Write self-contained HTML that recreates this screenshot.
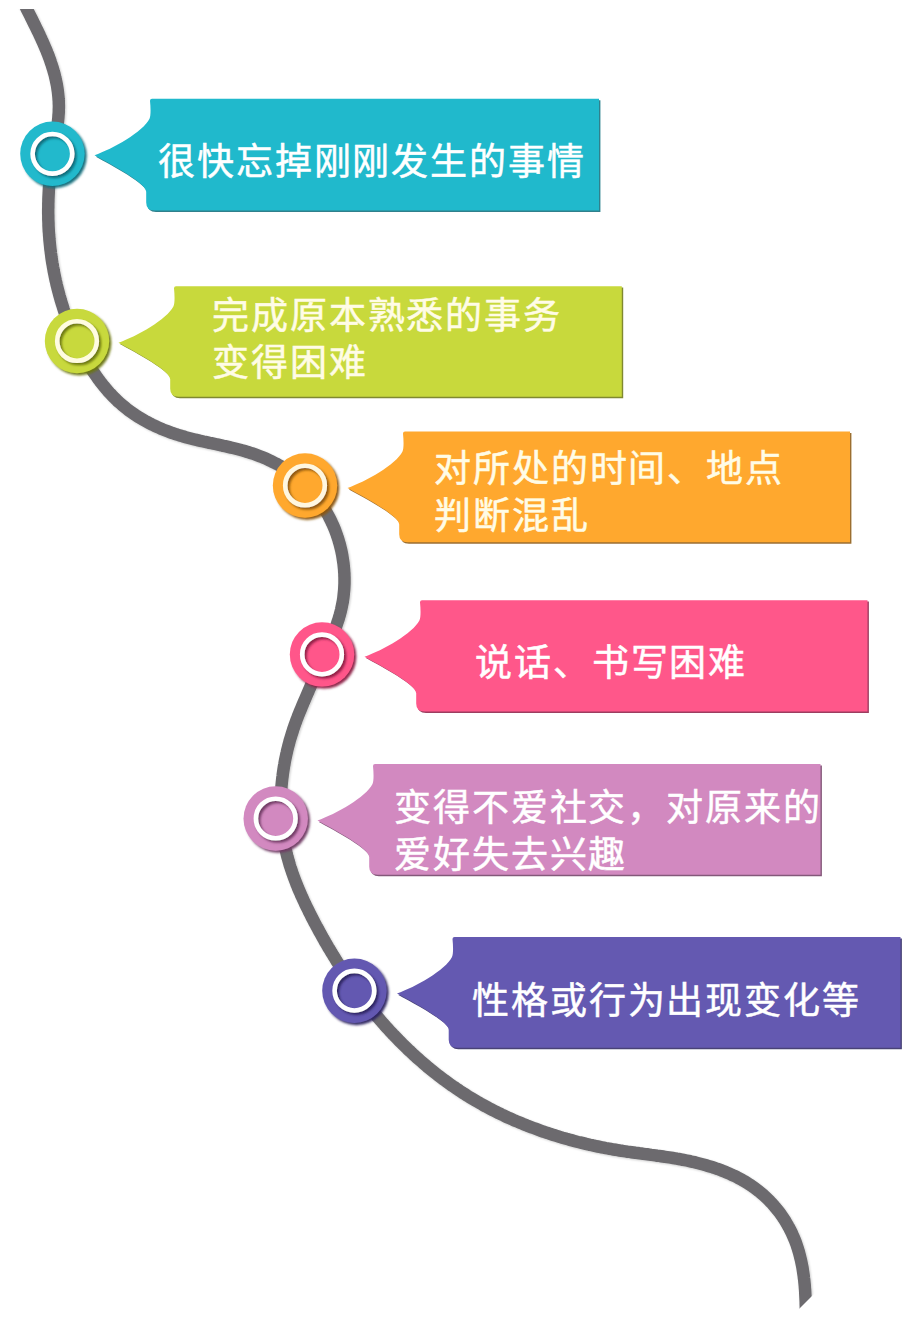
<!DOCTYPE html>
<html lang="zh-CN"><head><meta charset="utf-8"><style>
html,body{margin:0;padding:0;background:#ffffff;width:918px;height:1317px;overflow:hidden;position:relative}
.t{position:absolute;font-family:"Liberation Sans",sans-serif;font-size:37px;line-height:47px;white-space:nowrap;letter-spacing:1.9px;-webkit-text-stroke:0.5px currentColor}
</style></head><body>
<svg width="918" height="1317" viewBox="0 0 918 1317" style="position:absolute;left:0;top:0">
<defs>
<filter id="bl" x="-10%" y="-10%" width="120%" height="120%"><feGaussianBlur stdDeviation="0.7"/></filter>
<filter id="cs0" x="-30%" y="-30%" width="160%" height="160%"><feDropShadow dx="2.2" dy="2.2" stdDeviation="0.9" flood-color="#0c6b78" flood-opacity="0.95"/></filter>
<filter id="cs1" x="-30%" y="-30%" width="160%" height="160%"><feDropShadow dx="2.2" dy="2.2" stdDeviation="0.9" flood-color="#6a7510" flood-opacity="0.95"/></filter>
<filter id="cs2" x="-30%" y="-30%" width="160%" height="160%"><feDropShadow dx="2.2" dy="2.2" stdDeviation="0.9" flood-color="#8a5510" flood-opacity="0.95"/></filter>
<filter id="cs3" x="-30%" y="-30%" width="160%" height="160%"><feDropShadow dx="2.2" dy="2.2" stdDeviation="0.9" flood-color="#8c1f45" flood-opacity="0.95"/></filter>
<filter id="cs4" x="-30%" y="-30%" width="160%" height="160%"><feDropShadow dx="2.2" dy="2.2" stdDeviation="0.9" flood-color="#6e3b63" flood-opacity="0.95"/></filter>
<filter id="cs5" x="-30%" y="-30%" width="160%" height="160%"><feDropShadow dx="2.2" dy="2.2" stdDeviation="0.9" flood-color="#2a2460" flood-opacity="0.95"/></filter>
<filter id="lsh" x="-10%" y="-10%" width="120%" height="120%"><feDropShadow dx="1" dy="1" stdDeviation="1" flood-color="#000" flood-opacity="0.2"/></filter>
<clipPath id="cc"><polygon points="-10,9 928,9 928,1180 791,1317 -10,1317"/></clipPath>
</defs>
<g clip-path="url(#cc)"><path d="M17.2,-10.9 L18.0,-9.2 L18.8,-7.4 L19.6,-5.6 L20.5,-3.9 L21.3,-2.1 L22.2,-0.3 L23.0,1.5 L23.9,3.3 L24.8,5.0 L25.7,6.8 L26.6,8.6 L27.5,10.4 L28.4,12.2 L29.3,14.0 L30.2,15.8 L31.1,17.6 L32.0,19.4 L32.9,21.3 L33.8,23.1 L34.7,24.9 L35.6,26.7 L36.5,28.6 L37.4,30.4 L38.3,32.2 L39.2,34.1 L40.0,35.9 L40.9,37.8 L41.7,39.6 L42.6,41.5 L43.4,43.4 L44.2,45.2 L45.0,47.1 L45.8,49.0 L46.6,50.8 L47.3,52.7 L48.1,54.6 L48.8,56.5 L49.5,58.4 L50.2,60.3 L50.8,62.2 L51.5,64.2 L52.1,66.1 L52.7,68.0 L53.3,69.9 L53.8,71.9 L54.4,73.8 L54.9,75.8 L55.3,77.7 L55.8,79.7 L56.2,81.6 L56.6,83.6 L57.0,85.6 L57.3,87.5 L57.6,89.5 L57.9,91.5 L58.1,93.4 L58.3,95.4 L58.5,97.4 L58.6,99.4 L58.8,101.4 L58.8,103.4 L58.9,105.4 L58.9,107.3 L58.8,109.3 L58.8,111.3 L58.7,113.3 L58.5,115.3 L58.4,117.3 L58.2,119.3 L58.0,121.3 L57.8,123.3 L57.5,125.2 L57.2,127.2 L56.9,129.2 L56.6,131.2 L56.3,133.2 L56.0,135.2 L55.7,137.2 L55.3,139.2 L55.0,141.2 L54.6,143.2 L54.3,145.2 L53.9,147.2 L53.6,149.2 L53.3,151.2 L52.9,153.2 L52.6,155.2 L52.3,157.2 L52.0,159.2 L51.7,161.2 L51.5,163.2 L51.2,165.2 L50.9,167.2 L50.7,169.2 L50.5,171.2 L50.3,173.2 L50.1,175.2 L49.9,177.2 L49.7,179.2 L49.5,181.2 L49.3,183.2 L49.2,185.2 L49.0,187.2 L48.9,189.2 L48.8,191.2 L48.7,193.2 L48.6,195.3 L48.5,197.3 L48.4,199.3 L48.4,201.3 L48.3,203.3 L48.3,205.3 L48.3,207.3 L48.2,209.3 L48.2,211.3 L48.2,213.3 L48.3,215.3 L48.3,217.3 L48.3,219.3 L48.4,221.3 L48.5,223.3 L48.5,225.3 L48.6,227.3 L48.7,229.3 L48.8,231.3 L49.0,233.2 L49.1,235.2 L49.3,237.2 L49.4,239.2 L49.6,241.2 L49.8,243.2 L50.0,245.2 L50.2,247.2 L50.4,249.1 L50.7,251.1 L50.9,253.1 L51.2,255.1 L51.4,257.0 L51.7,259.0 L52.0,261.0 L52.3,263.0 L52.7,264.9 L53.0,266.9 L53.4,268.9 L53.7,270.8 L54.1,272.8 L54.5,274.7 L54.9,276.7 L55.3,278.6 L55.7,280.6 L56.2,282.5 L56.6,284.5 L57.1,286.4 L57.6,288.4 L58.1,290.3 L58.6,292.3 L59.1,294.2 L59.6,296.1 L60.2,298.0 L60.7,300.0 L61.3,301.9 L61.9,303.8 L62.5,305.7 L63.1,307.6 L63.7,309.6 L64.4,311.5 L65.0,313.4 L65.7,315.3 L66.4,317.2 L67.1,319.1 L67.8,321.0 L68.5,322.9 L69.2,324.7 L70.0,326.6 L70.7,328.5 L71.5,330.4 L72.3,332.2 L73.1,334.1 L73.9,336.0 L74.8,337.8 L75.6,339.7 L76.5,341.6 L77.4,343.4 L78.3,345.2 L79.2,347.1 L80.1,348.9 L81.0,350.7 L82.0,352.6 L82.9,354.4 L83.9,356.2 L84.9,358.0 L85.9,359.8 L87.0,361.5 L88.0,363.3 L89.1,365.1 L90.1,366.8 L91.2,368.5 L92.3,370.3 L93.4,372.0 L94.6,373.7 L95.7,375.3 L96.9,377.0 L98.1,378.7 L99.3,380.3 L100.5,381.9 L101.7,383.5 L103.0,385.1 L104.3,386.7 L105.6,388.2 L106.9,389.8 L108.2,391.3 L109.5,392.8 L110.9,394.2 L112.3,395.7 L113.6,397.1 L115.1,398.5 L116.5,399.9 L117.9,401.3 L119.4,402.6 L120.9,403.9 L122.4,405.2 L123.9,406.5 L125.4,407.7 L127.0,409.0 L128.5,410.2 L130.1,411.3 L131.7,412.5 L133.3,413.6 L135.0,414.7 L136.6,415.8 L138.3,416.9 L140.0,417.9 L141.7,418.9 L143.4,419.9 L145.1,420.9 L146.8,421.8 L148.6,422.8 L150.3,423.7 L152.1,424.6 L153.9,425.4 L155.7,426.3 L157.5,427.1 L159.3,427.9 L161.1,428.7 L163.0,429.5 L164.8,430.2 L166.7,430.9 L168.6,431.6 L170.4,432.3 L172.3,433.0 L174.2,433.6 L176.1,434.3 L178.0,434.9 L179.9,435.5 L181.9,436.1 L183.8,436.6 L185.7,437.2 L187.7,437.7 L189.6,438.2 L191.6,438.7 L193.5,439.2 L195.5,439.7 L197.4,440.1 L199.4,440.6 L201.4,441.0 L203.4,441.5 L205.3,441.9 L207.3,442.3 L209.3,442.8 L211.3,443.2 L213.3,443.6 L215.2,444.0 L217.2,444.5 L219.2,444.9 L221.2,445.3 L223.2,445.8 L225.1,446.2 L227.1,446.6 L229.1,447.1 L231.1,447.6 L233.0,448.0 L235.0,448.5 L237.0,449.0 L238.9,449.5 L240.9,450.0 L242.8,450.6 L244.8,451.1 L246.7,451.7 L248.6,452.3 L250.6,452.9 L252.5,453.5 L254.4,454.2 L256.3,454.9 L258.2,455.6 L260.1,456.3 L262.0,457.0 L263.8,457.8 L265.7,458.6 L267.6,459.4 L269.4,460.3 L271.2,461.2 L273.0,462.1 L274.8,463.0 L276.6,463.9 L278.4,464.9 L280.2,465.9 L281.9,467.0 L283.6,468.0 L285.3,469.1 L287.0,470.2 L288.7,471.3 L290.4,472.5 L292.0,473.6 L293.6,474.8 L295.2,476.1 L296.8,477.3 L298.4,478.6 L299.9,479.9 L301.4,481.2 L302.9,482.6 L304.4,483.9 L305.8,485.3 L307.3,486.7 L308.7,488.2 L310.0,489.6 L311.4,491.1 L312.7,492.6 L314.0,494.2 L315.3,495.7 L316.5,497.3 L317.7,498.9 L318.9,500.5 L320.1,502.1 L321.2,503.8 L322.3,505.4 L323.4,507.1 L324.5,508.8 L325.5,510.5 L326.5,512.3 L327.5,514.0 L328.5,515.8 L329.4,517.6 L330.3,519.4 L331.2,521.2 L332.0,523.0 L332.9,524.8 L333.7,526.7 L334.4,528.5 L335.2,530.4 L335.9,532.3 L336.6,534.2 L337.2,536.1 L337.9,538.0 L338.5,539.9 L339.0,541.8 L339.6,543.8 L340.1,545.7 L340.6,547.7 L341.1,549.6 L341.5,551.6 L341.9,553.6 L342.3,555.6 L342.6,557.6 L342.9,559.5 L343.2,561.5 L343.5,563.5 L343.7,565.5 L343.9,567.5 L344.1,569.5 L344.2,571.5 L344.4,573.6 L344.4,575.6 L344.5,577.6 L344.5,579.6 L344.5,581.6 L344.5,583.6 L344.4,585.6 L344.3,587.6 L344.2,589.6 L344.0,591.6 L343.8,593.6 L343.6,595.6 L343.4,597.6 L343.1,599.6 L342.8,601.6 L342.4,603.5 L342.0,605.5 L341.6,607.5 L341.2,609.4 L340.7,611.4 L340.2,613.3 L339.7,615.2 L339.1,617.2 L338.6,619.1 L337.9,621.0 L337.3,622.9 L336.7,624.8 L336.0,626.7 L335.3,628.6 L334.6,630.5 L333.9,632.4 L333.1,634.2 L332.4,636.1 L331.6,638.0 L330.8,639.9 L330.0,641.7 L329.3,643.6 L328.5,645.5 L327.7,647.3 L326.8,649.2 L326.0,651.0 L325.2,652.9 L324.4,654.7 L323.6,656.6 L322.8,658.4 L322.0,660.3 L321.2,662.1 L320.4,664.0 L319.6,665.8 L318.7,667.7 L317.9,669.5 L317.1,671.4 L316.3,673.2 L315.5,675.1 L314.7,676.9 L313.9,678.8 L313.1,680.6 L312.3,682.5 L311.5,684.3 L310.7,686.1 L309.9,688.0 L309.1,689.8 L308.3,691.7 L307.5,693.5 L306.7,695.4 L305.9,697.2 L305.1,699.1 L304.3,701.0 L303.5,702.8 L302.7,704.7 L301.9,706.5 L301.2,708.4 L300.4,710.3 L299.6,712.1 L298.9,714.0 L298.1,715.9 L297.4,717.8 L296.7,719.6 L296.0,721.5 L295.3,723.4 L294.6,725.3 L294.0,727.2 L293.3,729.1 L292.7,731.1 L292.1,733.0 L291.5,734.9 L290.9,736.8 L290.3,738.8 L289.7,740.7 L289.2,742.7 L288.7,744.6 L288.2,746.6 L287.7,748.5 L287.2,750.5 L286.8,752.4 L286.3,754.4 L285.9,756.4 L285.5,758.3 L285.1,760.3 L284.7,762.3 L284.4,764.3 L284.0,766.3 L283.7,768.3 L283.4,770.2 L283.1,772.2 L282.8,774.2 L282.6,776.2 L282.3,778.2 L282.1,780.2 L281.9,782.2 L281.7,784.2 L281.5,786.2 L281.4,788.2 L281.2,790.2 L281.1,792.2 L281.0,794.2 L280.9,796.2 L280.9,798.2 L280.8,800.2 L280.8,802.2 L280.8,804.2 L280.8,806.2 L280.8,808.2 L280.9,810.2 L280.9,812.2 L281.0,814.2 L281.1,816.2 L281.2,818.2 L281.4,820.2 L281.5,822.2 L281.7,824.2 L281.9,826.2 L282.1,828.2 L282.3,830.2 L282.6,832.1 L282.9,834.1 L283.2,836.1 L283.5,838.0 L283.8,840.0 L284.1,842.0 L284.5,843.9 L284.9,845.9 L285.3,847.8 L285.7,849.8 L286.2,851.7 L286.6,853.7 L287.1,855.6 L287.6,857.5 L288.2,859.4 L288.7,861.4 L289.3,863.3 L289.8,865.2 L290.4,867.1 L291.1,869.0 L291.7,870.9 L292.3,872.8 L293.0,874.7 L293.7,876.6 L294.4,878.4 L295.1,880.3 L295.8,882.2 L296.5,884.1 L297.3,885.9 L298.0,887.8 L298.8,889.6 L299.6,891.5 L300.4,893.3 L301.2,895.2 L302.0,897.0 L302.9,898.9 L303.7,900.7 L304.6,902.5 L305.4,904.4 L306.3,906.2 L307.2,908.0 L308.1,909.8 L309.0,911.7 L309.9,913.5 L310.8,915.3 L311.7,917.1 L312.6,918.9 L313.6,920.7 L314.5,922.5 L315.5,924.3 L316.4,926.1 L317.4,927.8 L318.3,929.6 L319.3,931.4 L320.3,933.2 L321.3,934.9 L322.2,936.7 L323.2,938.5 L324.2,940.2 L325.2,942.0 L326.3,943.8 L327.3,945.5 L328.3,947.3 L329.3,949.0 L330.4,950.7 L331.4,952.5 L332.5,954.2 L333.5,955.9 L334.6,957.6 L335.7,959.4 L336.7,961.1 L337.8,962.8 L338.9,964.5 L340.0,966.2 L341.1,967.9 L342.2,969.6 L343.3,971.3 L344.4,972.9 L345.5,974.6 L346.7,976.3 L347.8,978.0 L349.0,979.6 L350.1,981.3 L351.3,982.9 L352.4,984.6 L353.6,986.2 L354.8,987.9 L356.0,989.5 L357.1,991.1 L358.3,992.7 L359.5,994.4 L360.7,996.0 L362.0,997.6 L363.2,999.2 L364.4,1000.8 L365.6,1002.3 L366.9,1003.9 L368.1,1005.5 L369.4,1007.1 L370.6,1008.6 L371.9,1010.2 L373.2,1011.8 L374.4,1013.3 L375.7,1014.8 L377.0,1016.4 L378.3,1017.9 L379.6,1019.4 L380.9,1020.9 L382.2,1022.5 L383.6,1024.0 L384.9,1025.5 L386.2,1026.9 L387.6,1028.4 L388.9,1029.9 L390.3,1031.4 L391.6,1032.8 L393.0,1034.3 L394.4,1035.7 L395.8,1037.2 L397.2,1038.6 L398.6,1040.1 L400.0,1041.5 L401.4,1042.9 L402.8,1044.3 L404.2,1045.7 L405.6,1047.1 L407.1,1048.5 L408.5,1049.9 L410.0,1051.2 L411.4,1052.6 L412.9,1054.0 L414.3,1055.3 L415.8,1056.6 L417.3,1058.0 L418.8,1059.3 L420.3,1060.6 L421.8,1061.9 L423.3,1063.2 L424.8,1064.5 L426.3,1065.8 L427.8,1067.1 L429.4,1068.4 L430.9,1069.6 L432.5,1070.9 L434.0,1072.1 L435.6,1073.4 L437.2,1074.6 L438.7,1075.8 L440.3,1077.0 L441.9,1078.2 L443.5,1079.4 L445.1,1080.6 L446.7,1081.8 L448.3,1083.0 L449.9,1084.1 L451.6,1085.3 L453.2,1086.4 L454.9,1087.5 L456.5,1088.7 L458.2,1089.8 L459.8,1090.9 L461.5,1092.0 L463.2,1093.1 L464.9,1094.1 L466.5,1095.2 L468.2,1096.3 L469.9,1097.3 L471.7,1098.4 L473.4,1099.4 L475.1,1100.4 L476.8,1101.4 L478.6,1102.4 L480.3,1103.4 L482.1,1104.4 L483.8,1105.4 L485.6,1106.3 L487.4,1107.3 L489.1,1108.2 L490.9,1109.2 L492.7,1110.1 L494.5,1111.0 L496.3,1111.9 L498.1,1112.8 L499.9,1113.7 L501.8,1114.6 L503.6,1115.4 L505.4,1116.3 L507.2,1117.2 L509.1,1118.0 L510.9,1118.8 L512.8,1119.6 L514.6,1120.5 L516.5,1121.3 L518.4,1122.0 L520.2,1122.8 L522.1,1123.6 L524.0,1124.4 L525.9,1125.1 L527.8,1125.9 L529.7,1126.6 L531.6,1127.3 L533.5,1128.0 L535.4,1128.7 L537.3,1129.4 L539.2,1130.1 L541.1,1130.8 L543.0,1131.5 L544.9,1132.1 L546.9,1132.8 L548.8,1133.4 L550.7,1134.1 L552.7,1134.7 L554.6,1135.3 L556.5,1135.9 L558.5,1136.5 L560.4,1137.1 L562.4,1137.7 L564.3,1138.2 L566.3,1138.8 L568.2,1139.3 L570.2,1139.9 L572.2,1140.4 L574.1,1140.9 L576.1,1141.5 L578.1,1142.0 L580.0,1142.4 L582.0,1142.9 L584.0,1143.4 L585.9,1143.9 L587.9,1144.3 L589.9,1144.8 L591.9,1145.2 L593.8,1145.7 L595.8,1146.1 L597.8,1146.5 L599.8,1146.9 L601.7,1147.3 L603.7,1147.7 L605.7,1148.1 L607.7,1148.4 L609.7,1148.8 L611.7,1149.1 L613.6,1149.5 L615.6,1149.8 L617.6,1150.1 L619.6,1150.5 L621.6,1150.8 L623.5,1151.1 L625.5,1151.4 L627.5,1151.7 L629.5,1151.9 L631.5,1152.2 L633.4,1152.5 L635.4,1152.8 L637.4,1153.0 L639.4,1153.3 L641.4,1153.5 L643.3,1153.8 L645.3,1154.1 L647.3,1154.3 L649.3,1154.6 L651.2,1154.9 L653.2,1155.1 L655.2,1155.4 L657.1,1155.7 L659.1,1155.9 L661.1,1156.2 L663.1,1156.5 L665.0,1156.8 L667.0,1157.1 L669.0,1157.4 L670.9,1157.7 L672.9,1158.0 L674.9,1158.3 L676.8,1158.7 L678.8,1159.0 L680.8,1159.4 L682.7,1159.8 L684.7,1160.1 L686.6,1160.5 L688.6,1160.9 L690.5,1161.4 L692.5,1161.8 L694.5,1162.2 L696.4,1162.7 L698.4,1163.2 L700.3,1163.7 L702.3,1164.2 L704.2,1164.7 L706.1,1165.3 L708.1,1165.9 L710.0,1166.5 L712.0,1167.1 L713.9,1167.7 L715.8,1168.4 L717.7,1169.0 L719.6,1169.7 L721.5,1170.4 L723.4,1171.2 L725.3,1171.9 L727.2,1172.7 L729.1,1173.5 L730.9,1174.3 L732.7,1175.2 L734.6,1176.0 L736.4,1176.9 L738.2,1177.9 L740.0,1178.8 L741.8,1179.8 L743.5,1180.8 L745.3,1181.8 L747.0,1182.8 L748.7,1183.9 L750.4,1185.0 L752.0,1186.1 L753.7,1187.3 L755.3,1188.5 L756.9,1189.7 L758.5,1190.9 L760.1,1192.2 L761.6,1193.5 L763.1,1194.8 L764.6,1196.1 L766.1,1197.5 L767.6,1198.9 L769.0,1200.3 L770.4,1201.8 L771.8,1203.2 L773.1,1204.7 L774.4,1206.3 L775.7,1207.8 L777.0,1209.4 L778.3,1210.9 L779.5,1212.5 L780.7,1214.2 L781.8,1215.8 L783.0,1217.5 L784.1,1219.2 L785.2,1220.9 L786.2,1222.6 L787.2,1224.3 L788.2,1226.1 L789.2,1227.8 L790.1,1229.6 L791.0,1231.4 L791.9,1233.2 L792.7,1235.1 L793.5,1236.9 L794.3,1238.8 L795.1,1240.6 L795.8,1242.5 L796.5,1244.4 L797.1,1246.3 L797.7,1248.2 L798.3,1250.1 L798.9,1252.0 L799.4,1254.0 L799.9,1255.9 L800.4,1257.9 L800.9,1259.8 L801.3,1261.8 L801.7,1263.8 L802.1,1265.7 L802.5,1267.7 L802.8,1269.7 L803.1,1271.7 L803.4,1273.7 L803.7,1275.7 L803.9,1277.7 L804.2,1279.7 L804.4,1281.8 L804.6,1283.8 L804.8,1285.8 L804.9,1287.8 L805.1,1289.8 L805.2,1291.9 L805.3,1293.9 L805.4,1295.9 L805.5,1297.9 L805.6,1300.0 L805.7,1302.0 L805.7,1304.0 L805.8,1306.0 L805.8,1308.1 L805.9,1310.1 L805.9,1312.1 L805.9,1314.1 L805.9,1316.1 L805.9,1318.1 L805.9,1320.1 L805.9,1322.1 L805.9,1324.1 L805.9,1326.0 L805.9,1328.0 L805.8,1330.0" fill="none" stroke="#6c6b6e" stroke-width="12.5" stroke-linecap="butt" filter="url(#lsh)"/></g>
<path d="M152.0,98.8 L599.0,98.8 L599.0,210.5 L154.5,210.5 Q146.2,210.5 146.2,202.5 L146.2,191.8 C146.2,182.8 110.0,163.8 94.5,155.3 C113.0,148.8 143.0,131.8 149.5,118.8 C150.8,115.8 150.8,108.8 150.0,100.8 Q150.0,98.8 152.0,98.8 Z" fill="#0c6b78" transform="translate(1.4,1.4)" filter="url(#bl)" opacity="0.85"/>
<path d="M152.0,98.8 L599.0,98.8 L599.0,210.5 L154.5,210.5 Q146.2,210.5 146.2,202.5 L146.2,191.8 C146.2,182.8 110.0,163.8 94.5,155.3 C113.0,148.8 143.0,131.8 149.5,118.8 C150.8,115.8 150.8,108.8 150.0,100.8 Q150.0,98.8 152.0,98.8 Z" fill="#20b9cc"/>
<path d="M176.0,286.2 L621.8,286.2 L621.8,396.8 L178.5,396.8 Q170.2,396.8 170.2,388.8 L170.2,379.2 C170.2,370.2 134.0,351.2 118.5,342.7 C137.0,336.2 167.0,319.2 173.5,306.2 C174.8,303.2 174.8,296.2 174.0,288.2 Q174.0,286.2 176.0,286.2 Z" fill="#6a7510" transform="translate(1.4,1.4)" filter="url(#bl)" opacity="0.85"/>
<path d="M176.0,286.2 L621.8,286.2 L621.8,396.8 L178.5,396.8 Q170.2,396.8 170.2,388.8 L170.2,379.2 C170.2,370.2 134.0,351.2 118.5,342.7 C137.0,336.2 167.0,319.2 173.5,306.2 C174.8,303.2 174.8,296.2 174.0,288.2 Q174.0,286.2 176.0,286.2 Z" fill="#c8d93c"/>
<path d="M405.0,431.5 L850.0,431.5 L850.0,542.3 L407.5,542.3 Q399.2,542.3 399.2,534.3 L399.2,524.5 C399.2,515.5 363.0,496.5 347.5,488.0 C366.0,481.5 396.0,464.5 402.5,451.5 C403.8,448.5 403.8,441.5 403.0,433.5 Q403.0,431.5 405.0,431.5 Z" fill="#8a5510" transform="translate(1.4,1.4)" filter="url(#bl)" opacity="0.85"/>
<path d="M405.0,431.5 L850.0,431.5 L850.0,542.3 L407.5,542.3 Q399.2,542.3 399.2,534.3 L399.2,524.5 C399.2,515.5 363.0,496.5 347.5,488.0 C366.0,481.5 396.0,464.5 402.5,451.5 C403.8,448.5 403.8,441.5 403.0,433.5 Q403.0,431.5 405.0,431.5 Z" fill="#ffa82e"/>
<path d="M422.0,600.2 L867.5,600.2 L867.5,711.6 L424.5,711.6 Q416.2,711.6 416.2,703.6 L416.2,693.2 C416.2,684.2 380.0,665.2 364.5,656.7 C383.0,650.2 413.0,633.2 419.5,620.2 C420.8,617.2 420.8,610.2 420.0,602.2 Q420.0,600.2 422.0,600.2 Z" fill="#8c1f45" transform="translate(1.4,1.4)" filter="url(#bl)" opacity="0.85"/>
<path d="M422.0,600.2 L867.5,600.2 L867.5,711.6 L424.5,711.6 Q416.2,711.6 416.2,703.6 L416.2,693.2 C416.2,684.2 380.0,665.2 364.5,656.7 C383.0,650.2 413.0,633.2 419.5,620.2 C420.8,617.2 420.8,610.2 420.0,602.2 Q420.0,600.2 422.0,600.2 Z" fill="#ff578a"/>
<path d="M375.0,764.1 L820.5,764.1 L820.5,874.8 L377.5,874.8 Q369.2,874.8 369.2,866.8 L369.2,857.1 C369.2,848.1 333.0,829.1 317.5,820.6 C336.0,814.1 366.0,797.1 372.5,784.1 C373.8,781.1 373.8,774.1 373.0,766.1 Q373.0,764.1 375.0,764.1 Z" fill="#6e3b63" transform="translate(1.4,1.4)" filter="url(#bl)" opacity="0.85"/>
<path d="M375.0,764.1 L820.5,764.1 L820.5,874.8 L377.5,874.8 Q369.2,874.8 369.2,866.8 L369.2,857.1 C369.2,848.1 333.0,829.1 317.5,820.6 C336.0,814.1 366.0,797.1 372.5,784.1 C373.8,781.1 373.8,774.1 373.0,766.1 Q373.0,764.1 375.0,764.1 Z" fill="#d289c0"/>
<path d="M454.5,937.0 L900.5,937.0 L900.5,1047.8 L457.0,1047.8 Q448.7,1047.8 448.7,1039.8 L448.7,1030.0 C448.7,1021.0 412.5,1002.0 397.0,993.5 C415.5,987.0 445.5,970.0 452.0,957.0 C453.3,954.0 453.3,947.0 452.5,939.0 Q452.5,937.0 454.5,937.0 Z" fill="#2a2460" transform="translate(1.4,1.4)" filter="url(#bl)" opacity="0.85"/>
<path d="M454.5,937.0 L900.5,937.0 L900.5,1047.8 L457.0,1047.8 Q448.7,1047.8 448.7,1039.8 L448.7,1030.0 C448.7,1021.0 412.5,1002.0 397.0,993.5 C415.5,987.0 445.5,970.0 452.0,957.0 C453.3,954.0 453.3,947.0 452.5,939.0 Q452.5,937.0 454.5,937.0 Z" fill="#6459b1"/>
<circle cx="52.4" cy="153.8" r="32.2" fill="#20b9cc" filter="url(#cs0)"/>
<circle cx="52.4" cy="153.8" r="19.8" fill="none" stroke="#ffffff" stroke-width="4.6" filter="url(#cs0)"/>
<circle cx="77.0" cy="341.0" r="32.2" fill="#c8d93c" filter="url(#cs1)"/>
<circle cx="77.0" cy="341.0" r="19.8" fill="none" stroke="#fffce0" stroke-width="4.6" filter="url(#cs1)"/>
<circle cx="305.0" cy="485.5" r="32.2" fill="#ffa82e" filter="url(#cs2)"/>
<circle cx="305.0" cy="485.5" r="19.8" fill="none" stroke="#fff7e0" stroke-width="4.6" filter="url(#cs2)"/>
<circle cx="322.0" cy="654.4" r="32.2" fill="#ff578a" filter="url(#cs3)"/>
<circle cx="322.0" cy="654.4" r="19.8" fill="none" stroke="#ffffff" stroke-width="4.6" filter="url(#cs3)"/>
<circle cx="275.7" cy="818.5" r="32.2" fill="#d289c0" filter="url(#cs4)"/>
<circle cx="275.7" cy="818.5" r="19.8" fill="none" stroke="#ffffff" stroke-width="4.6" filter="url(#cs4)"/>
<circle cx="354.4" cy="990.7" r="32.2" fill="#6459b1" filter="url(#cs5)"/>
<circle cx="354.4" cy="990.7" r="19.8" fill="none" stroke="#ffffff" stroke-width="4.6" filter="url(#cs5)"/>
</svg>
<div class="t" style="left:158.0px;top:139.0px;color:#ffffff">很快忘掉刚刚发生的事情</div>
<div class="t" style="left:212.0px;top:293.0px;color:#fffce6">完成原本熟悉的事务<br>变得困难</div>
<div class="t" style="left:434.0px;top:446.0px;color:#fffce6">对所处的时间、地点<br>判断混乱</div>
<div class="t" style="left:475.0px;top:640.0px;color:#ffffff">说话、书写困难</div>
<div class="t" style="left:394.0px;top:785.0px;color:#ffffff">变得不爱社交，对原来的<br>爱好失去兴趣</div>
<div class="t" style="left:472.0px;top:978.0px;color:#ffffff">性格或行为出现变化等</div>
</body></html>
